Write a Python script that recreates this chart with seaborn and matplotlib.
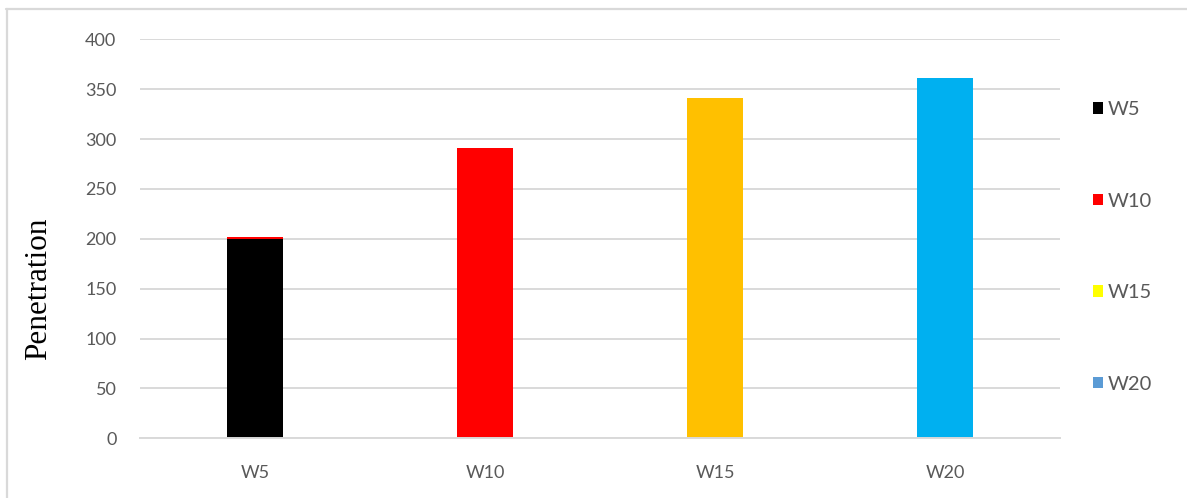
import matplotlib
matplotlib.use("Agg")
import matplotlib.pyplot as plt
from matplotlib.patches import Patch
from matplotlib.lines import Line2D
import seaborn as sns
import pandas as pd

# Data
categories = ["W5", "W10", "W15", "W20"]
penetration = [200, 291, 341, 361]
top_cap = [1.5, 0, 0, 0]            # thin red cap on the W5 column
bar_colors = ["#000000", "#FF0000", "#FFC000", "#00B0F0"]
cap_colors = ["#FF0000", "#FF0000", "#FFC000", "#00B0F0"]
legend_labels = ["W5", "W10", "W15", "W20"]
legend_colors = ["#000000", "#FF0000", "#FFFF00", "#5B9BD5"]
y_ticks = [0, 50, 100, 150, 200, 250, 300, 350, 400]

sns.set_theme(style="white")
plt.rcParams["font.family"] = ["Lato", "DejaVu Sans"]

W, H = 1187, 498
fig = plt.figure(figsize=(W / 100, H / 100), dpi=100)
ax = fig.add_axes([140 / W, (H - 438.3) / H, 920 / W, 399 / H])

df = pd.DataFrame({
    "cat": categories,
    "base": penetration,
    "total": [b + c for b, c in zip(penetration, top_cap)],
})

grid_c = "#D9D9D9"
text_c = "#595959"

ax.set_axisbelow(True)
ax.yaxis.grid(True, color=grid_c, linewidth=1.4)
ax.xaxis.grid(False)

# Cap layer underneath, then the main columns on top
sns.barplot(data=df, x="cat", y="total", hue="cat", palette=cap_colors,
            width=0.24, legend=False, ax=ax, saturation=1, linewidth=0)
sns.barplot(data=df, x="cat", y="base", hue="cat", palette=bar_colors,
            width=0.24, legend=False, ax=ax, saturation=1, linewidth=0)

ax.set_ylim(0, 400)
ax.set_xlim(-0.5, 3.5)
ax.set_yticks(y_ticks)
ax.set_yticklabels([str(t) for t in y_ticks])
ax.set_xlabel("")
ax.set_ylabel("Penetration")
ylab = ax.yaxis.label
ylab.set_fontfamily(["Liberation Serif", "DejaVu Serif"])
ylab.set_fontsize(22.5)
ylab.set_color("#000000")
ax.yaxis.set_label_coords(-0.094, 0.374)
ax.tick_params(axis="y", length=0, pad=17, labelsize=13, labelcolor=text_c)
ax.tick_params(axis="x", length=0, pad=19, labelsize=13, labelcolor=text_c)

for s in ["top", "right", "left"]:
    ax.spines[s].set_visible(False)
ax.spines["bottom"].set_color(grid_c)
ax.spines["bottom"].set_linewidth(1.4)

handles = [Patch(facecolor=c, edgecolor="none") for c in legend_colors]
fig.legend(handles, legend_labels, loc="center left",
           bbox_to_anchor=(1075 / W, (H - 247) / H), frameon=False,
           fontsize=14.5, labelcolor=text_c, labelspacing=3.7,
           handlelength=0.5, handleheight=0.5, handletextpad=0.2)

# Chart-area border (top and left edges)
fig.add_artist(Line2D([6 / W, 1.0], [(H - 9.5) / H, (H - 9.5) / H],
                      transform=fig.transFigure, color=grid_c, linewidth=1.6))
fig.add_artist(Line2D([7 / W, 7 / W], [0, (H - 9.5) / H],
                      transform=fig.transFigure, color=grid_c, linewidth=1.6))

fig.savefig("out.png", dpi=100)
